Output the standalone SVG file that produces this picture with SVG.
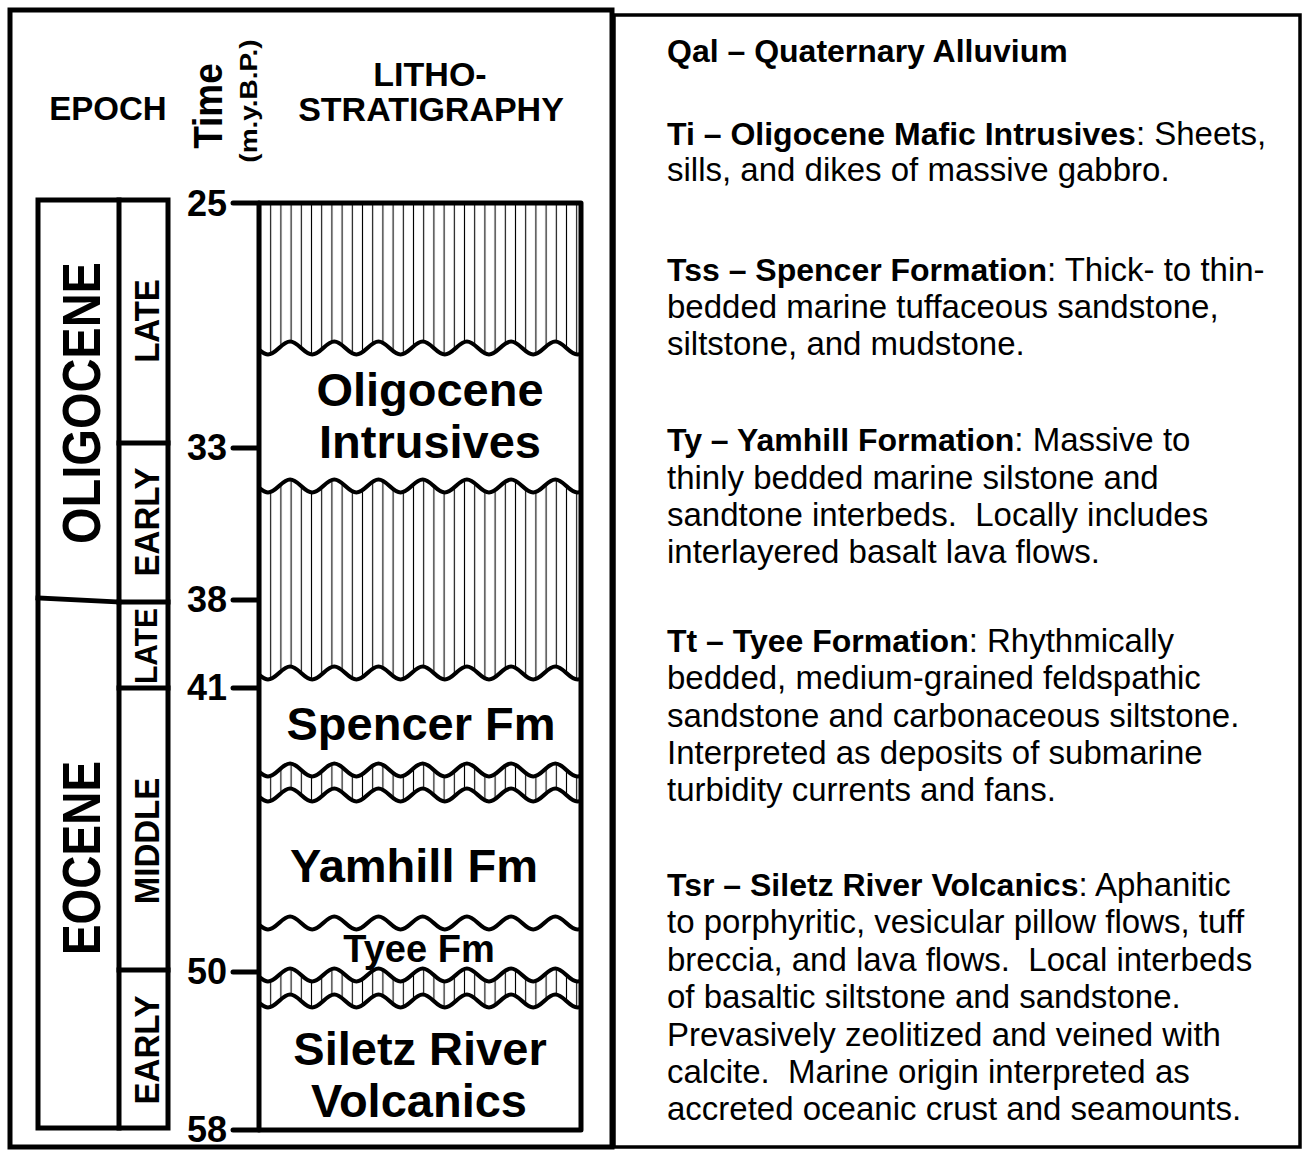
<svg xmlns="http://www.w3.org/2000/svg" xmlns:xlink="http://www.w3.org/1999/xlink" width="1307" height="1152" viewBox="0 0 1307 1152">
<style>
.b{font-family:"Liberation Sans",Arial,sans-serif;font-weight:bold;fill:#000}
.n{font-family:"Liberation Sans",Arial,sans-serif;font-weight:normal;fill:#000}
.ln{stroke:#000;stroke-width:5;fill:none;stroke-linecap:round;stroke-linejoin:round}
.sq{stroke:#000;stroke-width:5;fill:none;stroke-linecap:square;stroke-linejoin:miter}
.wv{stroke:#000;stroke-width:4.2;fill:none}
.lab{font-size:47px;text-anchor:middle}
.tk{font-size:36px;text-anchor:end}
.sub{font-size:33px;text-anchor:middle}
.lg{font-size:33px}
.lg .b{font-size:32px}
</style>
<defs>
<pattern id="hatch" patternUnits="userSpaceOnUse" x="265.6" y="0" width="10.2" height="20">
<line x1="5.1" y1="0" x2="5.1" y2="20" stroke="#000" stroke-width="1.1"/>
</pattern>
<path id="w" d="M245.9,-6.5 C253.9,-6.5 260,6.5 268,6.5 C276,6.5 282.1,-6.5 290.1,-6.5 C298.1,-6.5 304.2,6.5 312.2,6.5 C320.2,6.5 326.3,-6.5 334.3,-6.5 C342.3,-6.5 348.4,6.5 356.4,6.5 C364.4,6.5 370.5,-6.5 378.5,-6.5 C386.5,-6.5 392.6,6.5 400.6,6.5 C408.6,6.5 414.7,-6.5 422.7,-6.5 C430.7,-6.5 436.8,6.5 444.8,6.5 C452.8,6.5 458.9,-6.5 466.9,-6.5 C474.9,-6.5 481,6.5 489,6.5 C497,6.5 503.1,-6.5 511.1,-6.5 C519.1,-6.5 525.2,6.5 533.2,6.5 C541.2,6.5 547.3,-6.5 555.3,-6.5 C563.3,-6.5 569.4,6.5 577.4,6.5 C585.4,6.5 591.5,-6.5 599.5,-6.5"/>
<path id="wf" d="M245.9,-6.5 C253.9,-6.5 260,6.5 268,6.5 C276,6.5 282.1,-6.5 290.1,-6.5 C298.1,-6.5 304.2,6.5 312.2,6.5 C320.2,6.5 326.3,-6.5 334.3,-6.5 C342.3,-6.5 348.4,6.5 356.4,6.5 C364.4,6.5 370.5,-6.5 378.5,-6.5 C386.5,-6.5 392.6,6.5 400.6,6.5 C408.6,6.5 414.7,-6.5 422.7,-6.5 C430.7,-6.5 436.8,6.5 444.8,6.5 C452.8,6.5 458.9,-6.5 466.9,-6.5 C474.9,-6.5 481,6.5 489,6.5 C497,6.5 503.1,-6.5 511.1,-6.5 C519.1,-6.5 525.2,6.5 533.2,6.5 C541.2,6.5 547.3,-6.5 555.3,-6.5 C563.3,-6.5 569.4,6.5 577.4,6.5 C585.4,6.5 591.5,-6.5 599.5,-6.5 L599.5,1200 L245.9,1200 Z"/>
<clipPath id="col"><rect x="259" y="203" width="322" height="927"/></clipPath>
</defs>
<rect width="1307" height="1152" fill="#fff"/>

<g id="frame">
<rect x="10" y="10" width="602" height="1137" class="sq"/>
<rect x="614" y="15" width="686" height="1132" fill="none" stroke="#000" stroke-width="3.5"/>
</g>

<g id="headers">
<text class="b" x="108" y="120" font-size="33" text-anchor="middle">EPOCH</text>
<text class="b" font-size="37" text-anchor="middle" transform="translate(222,106) rotate(-90) scale(1,1.1)">Time</text>
<text class="b" font-size="28" text-anchor="middle" transform="translate(257,101) rotate(-90) scale(1,0.88)">(m.y.B.P.)</text>
<text class="b" x="430" y="86" font-size="34" text-anchor="middle">LITHO-</text>
<text class="b" x="431" y="121" font-size="34" text-anchor="middle">STRATIGRAPHY</text>
</g>

<g id="epoch-column">
<rect x="38" y="200" width="130" height="928" class="sq"/>
<line x1="119" y1="200" x2="119" y2="1128" class="sq"/>
<line x1="38" y1="598" x2="119" y2="602" class="sq"/>
<line x1="119" y1="443" x2="168" y2="443" class="sq"/>
<line x1="119" y1="602" x2="168" y2="602" class="sq"/>
<line x1="119" y1="688" x2="168" y2="688" class="sq"/>
<line x1="119" y1="970" x2="168" y2="970" class="sq"/>
<text class="b" font-size="47" text-anchor="middle" transform="translate(100,403) rotate(-90) scale(1,1.15)">OLIGOCENE</text>
<text class="b" font-size="46" text-anchor="middle" transform="translate(100,858) rotate(-90) scale(1,1.15)">EOCENE</text>
<text class="b sub" transform="translate(159,321) rotate(-90) scale(1,1.06)">LATE</text>
<text class="b sub" transform="translate(159,522) rotate(-90) scale(1,1.06)">EARLY</text>
<text class="b" font-size="30" text-anchor="middle" transform="translate(157,646) rotate(-90) scale(1,1.06)">LATE</text>
<text class="b sub" transform="translate(159,841) rotate(-90) scale(1,1.06)">MIDDLE</text>
<text class="b sub" transform="translate(159,1050) rotate(-90) scale(1,1.06)">EARLY</text>
</g>

<g id="ticks">
<line x1="233" y1="203" x2="259" y2="203" class="ln"/>
<line x1="233" y1="448" x2="259" y2="448" class="ln"/>
<line x1="233" y1="600" x2="259" y2="600" class="ln"/>
<line x1="233" y1="688" x2="259" y2="688" class="ln"/>
<line x1="233" y1="972" x2="259" y2="972" class="ln"/>
<line x1="233" y1="1130" x2="259" y2="1130" class="ln"/>
<text class="b tk" x="227" y="216">25</text>
<text class="b tk" x="227" y="460">33</text>
<text class="b tk" x="227" y="612">38</text>
<text class="b tk" x="227" y="700">41</text>
<text class="b tk" x="227" y="984">50</text>
<text class="b tk" x="227" y="1142">58</text>
</g>

<g id="litho-column">
<g clip-path="url(#col)">
<rect x="259" y="203" width="322" height="927" fill="url(#hatch)"/>
<use xlink:href="#wf" href="#wf" transform="translate(0,348)" fill="#fff"/>
<use xlink:href="#wf" href="#wf" transform="translate(0,486)" fill="url(#hatch)"/>
<use xlink:href="#wf" href="#wf" transform="translate(0,673)" fill="#fff"/>
<use xlink:href="#wf" href="#wf" transform="translate(0,770)" fill="url(#hatch)"/>
<use xlink:href="#wf" href="#wf" transform="translate(0,795)" fill="#fff"/>
<use xlink:href="#wf" href="#wf" transform="translate(0,975)" fill="url(#hatch)"/>
<use xlink:href="#wf" href="#wf" transform="translate(0,1001)" fill="#fff"/>
<g class="wv">
<use xlink:href="#w" href="#w" transform="translate(0,348)"/>
<use xlink:href="#w" href="#w" transform="translate(0,486)"/>
<use xlink:href="#w" href="#w" transform="translate(0,673)"/>
<use xlink:href="#w" href="#w" transform="translate(0,770)"/>
<use xlink:href="#w" href="#w" transform="translate(0,795)"/>
<use xlink:href="#w" href="#w" transform="translate(0,923)"/>
<use xlink:href="#w" href="#w" transform="translate(0,975)"/>
<use xlink:href="#w" href="#w" transform="translate(0,1001)"/>
</g>
</g>
<path d="M259,1130 V203 H581 V1130 Z" class="ln"/>
<text class="b lab" x="430" y="406">Oligocene</text>
<text class="b lab" x="430" y="458">Intrusives</text>
<text class="b lab" x="421" y="740">Spencer Fm</text>
<text class="b lab" x="414" y="882">Yamhill Fm</text>
<text class="b" x="419" y="962" font-size="38" text-anchor="middle">Tyee Fm</text>
<text class="b lab" x="420" y="1065">Siletz River</text>
<text class="b lab" x="419" y="1117">Volcanics</text>
</g>

<g id="legend" class="lg">
<text class="b" x="667" y="62">Qal – Quaternary Alluvium</text>
<text class="n" x="667" y="145"><tspan class="b">Ti – Oligocene Mafic Intrusives</tspan>: Sheets,</text>
<text class="n" x="667" y="181">sills, and dikes of massive gabbro.</text>
<text class="n" x="667" y="281"><tspan class="b">Tss – Spencer Formation</tspan>: Thick- to thin-</text>
<text class="n" x="667" y="318">bedded marine tuffaceous sandstone,</text>
<text class="n" x="667" y="355">siltstone, and mudstone.</text>
<text class="n" x="667" y="451"><tspan class="b">Ty – Yamhill Formation</tspan>: Massive to</text>
<text class="n" x="667" y="489">thinly bedded marine silstone and</text>
<text class="n" x="667" y="526" xml:space="preserve">sandtone interbeds.  Locally includes</text>
<text class="n" x="667" y="563">interlayered basalt lava flows.</text>
<text class="n" x="667" y="652"><tspan class="b">Tt – Tyee Formation</tspan>: Rhythmically</text>
<text class="n" x="667" y="689">bedded, medium-grained feldspathic</text>
<text class="n" x="667" y="727">sandstone and carbonaceous siltstone.</text>
<text class="n" x="667" y="764">Interpreted as deposits of submarine</text>
<text class="n" x="667" y="801">turbidity currents and fans.</text>
<text class="n" x="667" y="896"><tspan class="b">Tsr – Siletz River Volcanics</tspan>: Aphanitic</text>
<text class="n" x="667" y="933">to porphyritic, vesicular pillow flows, tuff</text>
<text class="n" x="667" y="971" xml:space="preserve">breccia, and lava flows.  Local interbeds</text>
<text class="n" x="667" y="1008">of basaltic siltstone and sandstone.</text>
<text class="n" x="667" y="1046">Prevasively zeolitized and veined with</text>
<text class="n" x="667" y="1083" xml:space="preserve">calcite.  Marine origin interpreted as</text>
<text class="n" x="667" y="1120">accreted oceanic crust and seamounts.</text>
</g>
</svg>
